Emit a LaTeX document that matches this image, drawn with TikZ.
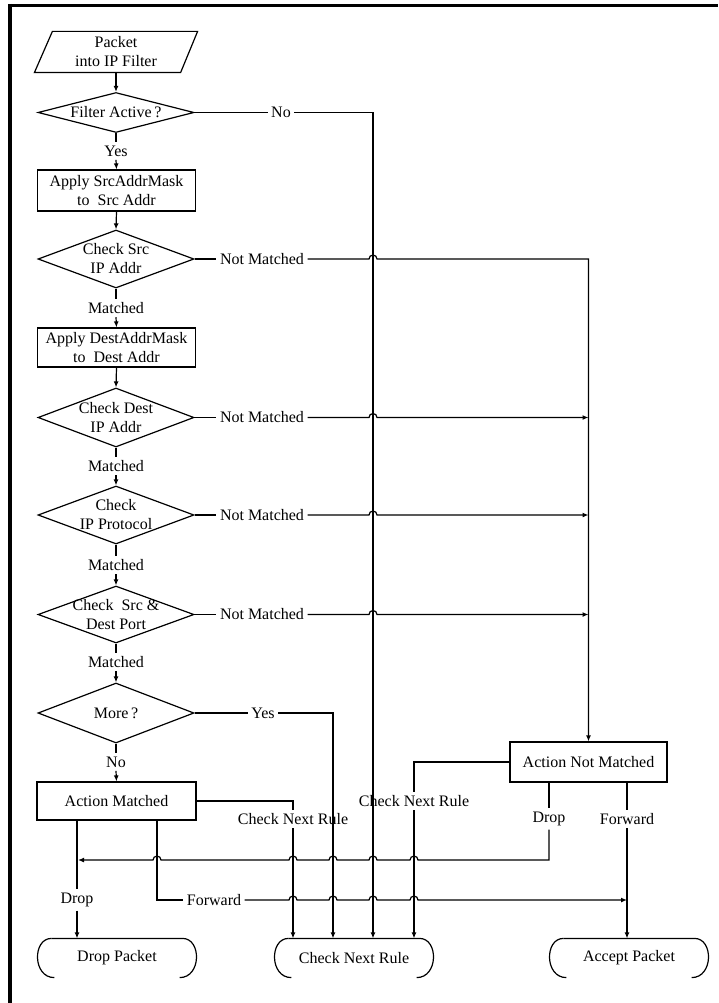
\documentclass[tikz,border=0pt]{standalone}
\usepackage{fontspec}
\setmainfont{Liberation Serif}
\usetikzlibrary{shapes.geometric,arrows.meta,calc}
\begin{document}
\begin{tikzpicture}[x=1pt,y=-1pt,
  font=\fontsize{16}{19}\selectfont,
  line width=1.2pt,
  >={Latex[length=6pt,width=5pt]},
  dia/.style={diamond,draw,minimum width=156pt,minimum height=58pt,inner sep=0pt},
  procbox/.style={rectangle,draw,minimum width=158pt,minimum height=40pt,inner sep=0pt,align=center},
  lbl/.style={inner sep=3pt},
  txt/.style={align=center,inner sep=0pt},
  term/.style={minimum width=160pt,minimum height=38pt,inner sep=0pt},
  hopr/.style={insert path={arc[start angle=180,end angle=0,radius=4pt]}},
  hopl/.style={insert path={arc[start angle=0,end angle=180,radius=4pt]}}
]
\useasboundingbox (0,0) rectangle (718,1003);
% frame
\draw[line width=3pt] (8,5.5) -- (718,5.5);
\draw[line width=3.5pt] (10,4) -- (10,1003);

% start parallelogram
\node[minimum width=162pt,minimum height=40pt,inner sep=0pt,align=center] (start) at (116,52) {Packet\\into IP Filter};
\draw ([xshift=18pt]start.north west) -- (start.north east) -- ([xshift=-17pt]start.south east) -- (start.south west) -- cycle;

% decisions and processes
\node[dia,minimum height=40pt] (fa) at (116,112.5) {};
\node[txt] at (fa) {Filter Active\,?};
\node[procbox,minimum height=41pt] (b1) at (116.5,190.5) {Apply SrcAddrMask\\to\ \ Src Addr};
\node[dia] (cs) at (116,259) {};
\node[txt] at (cs) {Check Src\\IP Addr};
\node[procbox,minimum height=39pt] (b2) at (116.5,347.5) {Apply DestAddrMask\\to\ \ Dest Addr};
\node[dia,minimum height=59pt] (cd) at (116,417.5) {};
\node[txt] at (cd) {Check Dest\\IP Addr};
\node[dia] (cp) at (116,515) {};
\node[txt] at (cp) {Check\\IP Protocol};
\node[dia,minimum height=57pt] (cpt) at (116,614.5) {};
\node[txt] at (cpt) {Check\ \ Src \&\\Dest Port};
\node[dia,minimum height=60pt] (more) at (116,713) {};
\node[txt] at (more) {More\,?};
\node[procbox,minimum width=159pt,minimum height=38pt] (am) at (116.5,801) {Action Matched};
\node[procbox,minimum width=157pt,minimum height=40pt] (anm) at (588.5,762) {Action Not Matched};

% terminals
\node[term] (dp) at (117,958) {Drop Packet};
\node[term] (cnr) at (354,958) {Check Next Rule};
\node[term] (ap) at (629,958) {Accept Packet};
\foreach \t in {dp,cnr,ap}{
  \draw ([xshift=15pt]\t.north west) -- ([xshift=-15pt]\t.north east)
        .. controls ([xshift=4pt]\t.north east) and ([xshift=4pt]\t.south east) .. ([xshift=-18pt]\t.south east);
  \draw ([xshift=15pt]\t.north west)
        .. controls ([xshift=-4pt]\t.north west) and ([xshift=-4pt]\t.south west) .. ([xshift=18pt]\t.south west);
}

% labels on the main column
\node[lbl] (yes1) at (116,151) {Yes};
\node[lbl] (m1) at (116,308) {Matched};
\node[lbl] (m2) at (116,466) {Matched};
\node[lbl] (m3) at (116,565) {Matched};
\node[lbl] (m4) at (116,662) {Matched};
\node[lbl] (no2) at (116,762) {No};

% main column connectors
\draw[->] (start.south) -- (fa.north);
\draw (fa.south) -- (yes1.north);
\draw[->] (yes1.south) -- (b1.north);
\draw[->] (b1.south) -- (cs.north);
\draw (cs.south) -- (m1.north);
\draw[->] (m1.south) -- (b2.north);
\draw[->] (b2.south) -- (cd.north);
\draw (cd.south) -- (m2.north);
\draw[->] (m2.south) -- (cp.north);
\draw (cp.south) -- (m3.north);
\draw[->] (m3.south) -- (cpt.north);
\draw (cpt.south) -- (m4.north);
\draw[->] (m4.south) -- (more.north);
\draw (more.south) -- (no2.north);
\draw[->] (no2.south) -- (am.north);

% Filter Active? No
\node[lbl] (nolab) at (281,112.5) {No};
\coordinate (noX) at (373,112.5);
\draw (fa.east) -- (nolab.west);
\draw[->] (nolab.east) -- (noX) -- (cnr.north -| noX);

% Not Matched branches
\node[lbl] (nm1) at (262,259) {Not Matched};
\node[lbl] (nm2) at (262,417.5) {Not Matched};
\node[lbl] (nm3) at (262,515) {Not Matched};
\node[lbl] (nm4) at (262,614.5) {Not Matched};
\draw (cs.east) -- (nm1.west);
\draw (cd.east) -- (nm2.west);
\draw (cp.east) -- (nm3.west);
\draw (cpt.east) -- (nm4.west);
\draw[->] (nm1.east) -- (369,259) [hopr] -- (anm.north |- nm1.east) -- (anm.north);
\draw[->] (nm2.east) -- (369,417.5) [hopr] -- (anm.north |- nm2.east);
\draw[->] (nm3.east) -- (369,515) [hopr] -- (anm.north |- nm3.east);
\draw[->] (nm4.east) -- (369,614.5) [hopr] -- (anm.north |- nm4.east);

% More? Yes
\node[lbl] (yes2) at (263,713) {Yes};
\coordinate (yesX) at (333,713);
\draw (more.east) -- (yes2.west);
\draw[->] (yes2.east) -- (yesX) -- (cnr.north -| yesX);

% Action Matched -> Check Next Rule
\node[lbl] (cnrL) at (293,819) {Check Next Rule};
\draw (am.east) -| (cnrL.north);
\draw[->] (cnrL.south) -- (cnr.north -| cnrL);

% Action Not Matched -> Check Next Rule
\node[lbl] (cnrR) at (414,801) {Check Next Rule};
\draw (anm.west) -| (cnrR.north);
\draw[->] (cnrR.south) -- (cnr.north -| cnrR);

% Action Matched Drop
\coordinate (amD) at (77,820);
\node[lbl] (dropam) at (77,900) {Drop};
\draw (amD) -- (dropam.north);
\draw[->] (dropam.south) -- (dp.north -| amD);

% Action Matched Forward
\coordinate (amF) at (157,820);
\node[lbl] (fwdam) at (214,900) {Forward};
\coordinate (fwdEnd) at (627,900);
\draw (amF) |- (fwdam.west);
\draw[->] (fwdam.east) -- (289,900) [hopr] -- (329,900) [hopr] -- (369,900) [hopr] -- (410,900) [hopr] -- (fwdEnd);

% Action Not Matched Drop
\coordinate (anmD) at (549,782);
\node[lbl] (dropanm) at (549,819) {Drop};
\coordinate (dropEnd) at (78,860);
\draw (anmD) -- (dropanm.north);
\draw[->] (dropanm.south) -- (549,860) -- (418,860) [hopl] -- (377,860) [hopl] -- (337,860) [hopl] -- (297,860) [hopl] -- (161,860) [hopl] -- (dropEnd);

% Action Not Matched Forward
\coordinate (anmF) at (627,782);
\node[lbl] (fwdanm) at (627,819) {Forward};
\draw (anmF) -- (fwdanm.north);
\draw[->] (fwdanm.south) -- (ap.north -| anmF);
\end{tikzpicture}
\end{document}
